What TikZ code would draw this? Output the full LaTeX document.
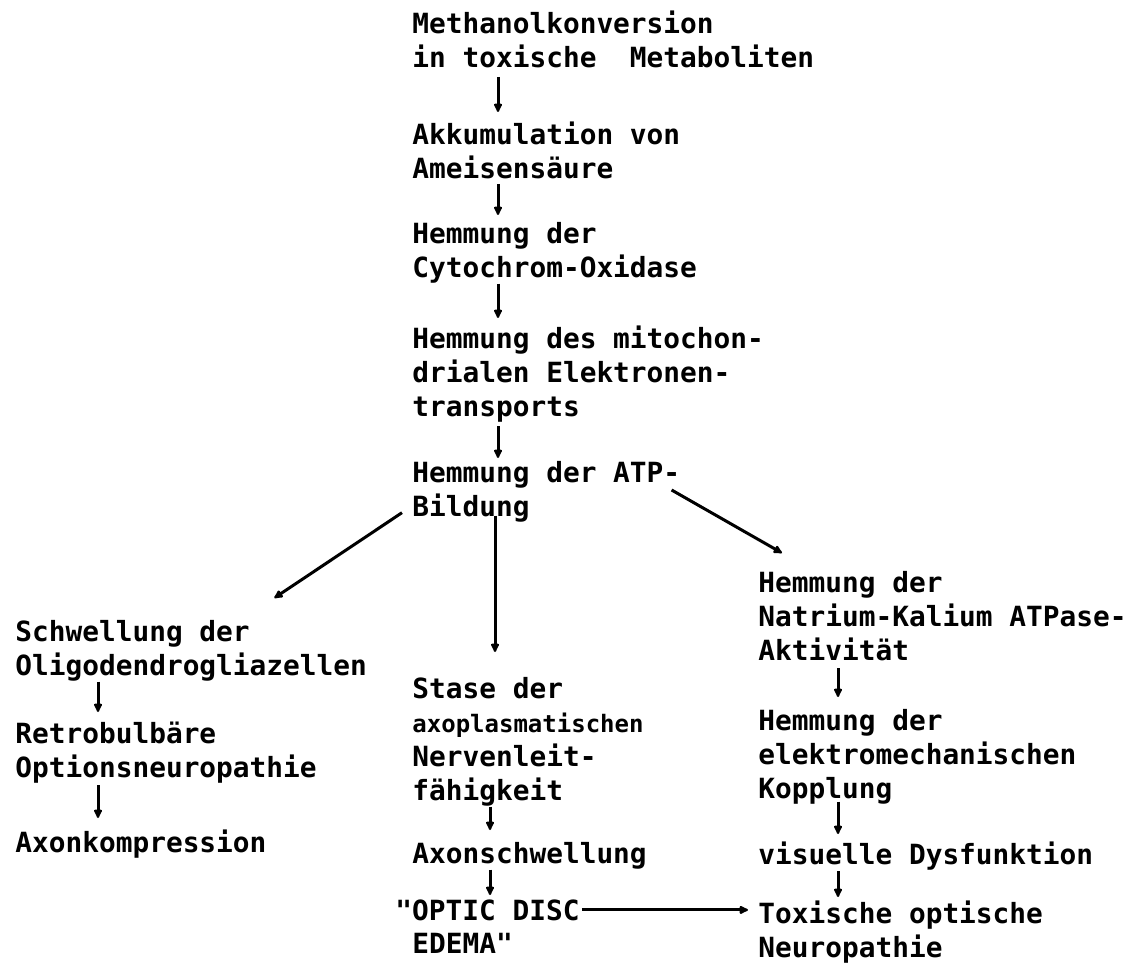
\documentclass[tikz,border=0pt]{standalone}
\usepackage{fontspec}
\setmonofont{DejaVu Sans Mono}
\usetikzlibrary{arrows.meta}
\begin{document}
\begin{tikzpicture}[x=0.5pt,y=-0.5pt,
	box/.style={anchor=north west,align=left,font=\ttfamily\bfseries\fontsize{13.9}{17}\selectfont},
	arr/.style={-{Latex[length=5.5pt,width=5pt,round]},line width=1.5pt}]
	\tikzstyle{every node}+=[inner sep=0pt]
	\useasboundingbox (0,0) rectangle (1133,972);
	\coordinate (ctop) at (498,0);
	\coordinate (cmid) at (495,0);
	\coordinate (clow) at (490,0);
	\coordinate (cleft) at (98,0);
	\coordinate (cright) at (838,0);
	\node [box] (meth) at (412,11) {Methanolkonversion\\in toxische\ \ Metaboliten};
	\node [box] (akku) at (412,122) {Akkumulation von\\Ameisensäure};
	\node [box] (cyto) at (412,222) {Hemmung der\\Cytochrom-Oxidase};
	\node [box] (mito) at (412,325) {Hemmung des mitochon-\\drialen Elektronen-\\transports};
	\node [box] (atp) at (412,461) {Hemmung der ATP-\\Bildung};
	\node [box] (oligo) at (15,620) {Schwellung der\\Oligodendrogliazellen};
	\node [box] (retro) at (15,722) {Retrobulbäre\\Optionsneuropathie};
	\node [box] (kompr) at (15,829) {Axonkompression};
	\node [box] (stase) at (412,677) {Stase der\\{\fontsize{12}{17}\selectfont axoplasmatischen}\\Nervenleit-\\fähigkeit};
	\node [box] (axon) at (412,842) {Axonschwellung};
	\node [box] (disc) at (395,899) {"OPTIC DISC};
	\node [box] (edema) at (412,933) {EDEMA"};
	\node [box] (natr) at (758,571) {Hemmung der\\Natrium-Kalium ATPase-\\Aktivität};
	\node [box] (kopp) at (758,709) {Hemmung der\\elektromechanischen\\Kopplung};
	\node [box] (visu) at (758,841) {visuelle Dysfunktion};
	\node [box] (tox) at (758,900) {Toxische optische};
	\node [box] (neuro) at (758,934) {Neuropathie};
	\draw [arr,shorten <=4pt,shorten >=5pt] (meth.south -| ctop) -- (akku.north -| ctop);
	\draw [arr,shorten <=2pt,shorten >=3.5pt] (akku.south -| ctop) -- (cyto.north -| ctop);
	\draw [arr,shorten >=3.5pt] (cyto.south -| ctop) -- (mito.north -| ctop);
	\draw [arr,shorten <=2pt,shorten >=1.5pt] (mito.south -| ctop) -- (atp.north -| ctop);
	\draw [arr,shorten <=-3.5pt,shorten >=12.5pt] (atp.south -| cmid) -- (stase.north -| cmid);
	\draw [arr] ([shift={(-10,-10)}]atp.south west) -- ([shift={(-93,-22)}]oligo.north east);
	\draw [arr] ([shift={(-9,29)}]atp.north east) -- ([shift={(24,-18)}]natr.north west);
	\draw [arr,shorten >=5pt] (oligo.south -| cleft) -- (retro.north -| cleft);
	\draw [arr,shorten <=0.5pt,shorten >=5.5pt] (retro.south -| cleft) -- (kompr.north -| cleft);
	\draw [arr,shorten >=6pt] (stase.south -| clow) -- (axon.north -| clow);
	\draw [arr,shorten >=2pt] (axon.south -| clow) -- (disc.north -| clow);
	\draw [arr,shorten <=1pt,shorten >=5pt] (disc.east) -- (disc.east -| tox.west);
	\draw [arr,shorten <=3.5pt,shorten >=6pt] (natr.south -| cright) -- (kopp.north -| cright);
	\draw [arr,shorten <=-1.5pt,shorten >=3.5pt] (kopp.south -| cright) -- (visu.north -| cright);
	\draw [arr,shorten <=0.5pt,shorten >=1.5pt] (visu.south -| cright) -- (tox.north -| cright);
\end{tikzpicture}
\end{document}
